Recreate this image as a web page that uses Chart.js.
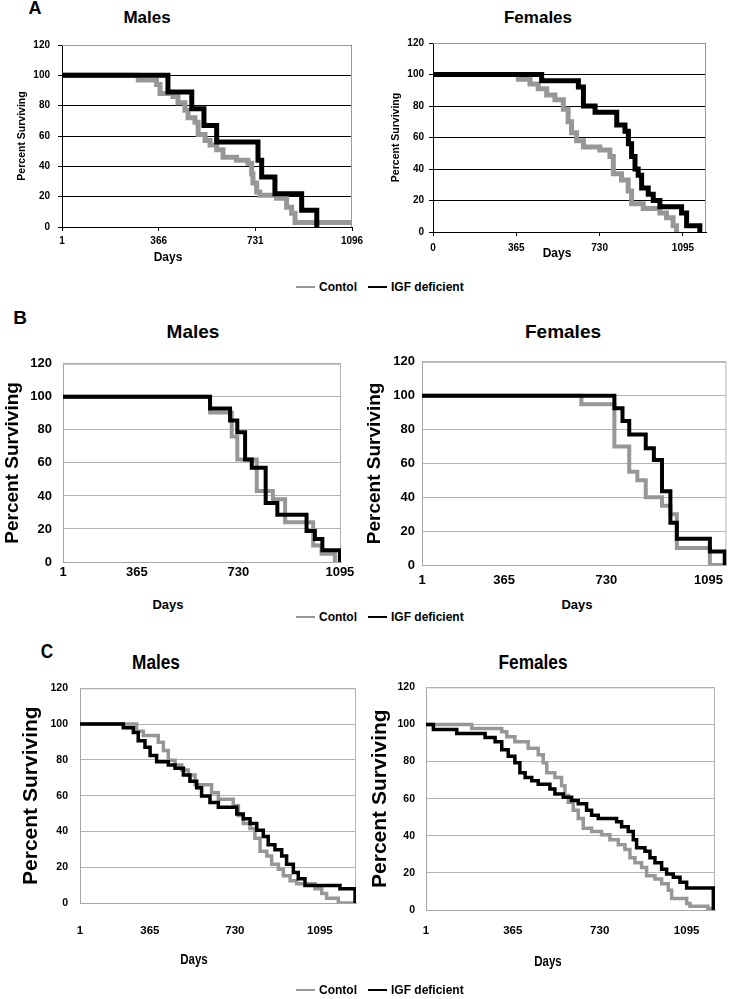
<!DOCTYPE html>
<html>
<head>
<meta charset="utf-8">
<script src="https://cdn.jsdelivr.net/npm/chart.js@4/dist/chart.umd.min.js"></script>
<style>
html,body{margin:0;padding:0;background:#fff;}
#page{position:relative;width:731px;height:999px;overflow:hidden;}
canvas{position:absolute;}
.t{position:absolute;white-space:nowrap;font-weight:bold;color:#000;line-height:1;}
.lg{position:absolute;display:flex;align-items:center;font-weight:bold;white-space:nowrap;transform:translateY(-50%);}
.lg i{display:inline-block;width:19px;height:2px;margin-right:4px;}
</style>
</head>
<body>
<div id="page"></div>
<script>
// series names and axis ticks
const seriesNames = ['Contol', 'IGF deficient'];
const yTicks = [0, 20, 40, 60, 80, 100, 120];

// A - males
const aMaleXTicks = [1, 366, 731, 1096];
const aMaleXLabels = ['1', '366', '731', '1096'];
const aMaleCtlDay = [1, 289, 358, 371, 420, 439, 465, 477, 503, 515, 541, 560, 585, 609, 660, 703, 717, 722, 736, 748, 811, 849, 868, 881, 1096];
const aMaleCtlPct = [100, 97, 94, 88, 86, 82, 77, 72, 69, 61, 57, 54, 51, 46, 44, 42, 35, 29, 23, 21, 19, 13, 9, 3, 3];
const aMaleIgfDay = [1, 401, 491, 537, 585, 741, 755, 805, 906, 963];
const aMaleIgfPct = [100, 89, 78, 67, 56, 44, 33, 22, 11, 0];

// A - females
const aFemXTicks = [0, 365, 730, 1095];
const aFemXLabels = ['0', '365', '730', '1095'];
const aFemCtlDay = [0, 374, 425, 461, 498, 534, 571, 592, 607, 629, 659, 731, 775, 790, 826, 855, 870, 921, 994, 1023, 1052, 1067];
const aFemCtlPct = [100, 97, 94, 91, 87, 84, 78, 70, 63, 58, 54, 52, 48, 37, 33, 26, 18, 15, 12, 9, 4, 0];
const aFemIgfDay = [0, 476, 637, 659, 710, 805, 841, 856, 870, 885, 899, 914, 943, 965, 994, 1089, 1111, 1169];
const aFemIgfPct = [100, 96, 92, 80, 76, 68, 64, 56, 48, 40, 36, 28, 24, 20, 16, 12, 4, 0];

// B - males
const bMaleXTicks = [99, 365, 730, 1095];
const bMaleXLabels = ['1', '365', '730', '1095'];
const bMaleCtlDay = [99, 628, 706, 726, 796, 854, 898, 999, 1029, 1077];
const bMaleCtlPct = [100, 90.5, 76, 62, 43, 38, 24, 10, 5, 0];
const bMaleIgfDay = [99, 628, 700, 726, 754, 778, 828, 870, 975, 1005, 1032, 1095];
const bMaleIgfPct = [100, 92.9, 85.7, 78.6, 62, 57.1, 35.7, 28.6, 18.7, 14, 7.1, 0];

// B - females
const bFemXTicks = [72, 365, 730, 1095];
const bFemXLabels = ['1', '365', '730', '1095'];
const bFemCtlDay = [72, 641, 759, 812, 841, 871, 929, 959, 982, 1100, 1159];
const bFemCtlPct = [100, 95, 70, 55, 50, 40, 35, 30, 10, 0, 0];
const bFemIgfDay = [72, 759, 788, 812, 871, 900, 929, 959, 982, 1100, 1153];
const bFemIgfPct = [100, 92.5, 85, 77, 69, 62, 43.5, 25, 15.5, 8, 0];

// C - males
const cMaleXTicks = [65, 365, 730, 1095];
const cMaleXLabels = ['1', '365', '730', '1095'];
const cMaleCtlDay = [65, 308, 337, 401, 423, 444, 473, 502, 530, 559, 630, 659, 723, 745, 766, 795, 816, 838, 867, 888, 917, 938, 967, 995, 1074, 1103, 1124, 1174, 1250];
const cMaleCtlPct = [100, 96, 93.6, 89.8, 85.3, 79.8, 77.1, 74.4, 71.6, 66.1, 61.6, 58, 54.4, 48.9, 44.4, 41.6, 36.2, 28.9, 26.2, 21.7, 18.9, 15.3, 12.5, 10.7, 8, 5.3, 2.6, 0, 0];
const cMaleIgfDay = [65, 251, 294, 315, 344, 366, 394, 444, 473, 509, 537, 566, 587, 623, 659, 738, 766, 795, 824, 852, 873, 902, 931, 952, 981, 1002, 1031, 1181, 1246];
const cMaleIgfPct = [100, 98, 95.3, 90.7, 87.1, 82.5, 78.9, 77.1, 75.3, 71.6, 68, 64.4, 59.8, 56.2, 53.5, 49.8, 47.1, 44.4, 40.7, 37.1, 32.6, 29.8, 26.2, 21.7, 17.1, 13.5, 9.8, 8, 0];

// C - females
const cFemXTicks = [1, 365, 730, 1095];
const cFemXLabels = ['1', '365', '730', '1095'];
const cFemCtlDay = [1, 193, 319, 340, 374, 430, 472, 493, 508, 542, 570, 584, 598, 619, 640, 661, 696, 738, 773, 808, 836, 857, 878, 906, 927, 962, 990, 1018, 1032, 1095, 1109, 1184, 1214];
const cFemCtlPct = [100, 97.8, 96, 93.4, 90.7, 87.2, 83.7, 79.3, 74, 71.4, 66.9, 61.7, 58.1, 53.7, 49.3, 44, 42.3, 40.5, 37.8, 35.2, 32.6, 28.2, 25.5, 22.9, 18.5, 16.7, 14.1, 10.6, 6.2, 3.5, 2, 0.8, 0];
const cFemIgfDay = [1, 32, 130, 249, 291, 319, 346, 374, 395, 417, 445, 472, 521, 542, 577, 612, 640, 675, 696, 724, 801, 822, 850, 871, 885, 920, 941, 962, 990, 1011, 1039, 1067, 1095, 1207];
const cFemIgfPct = [100, 97.2, 95.1, 93, 90.7, 86.3, 82.8, 79.3, 74, 71.4, 69.6, 67.8, 65.2, 62.5, 60.7, 59, 57.2, 53.7, 51.1, 49.3, 47.6, 44.9, 42.3, 37.8, 33.5, 31.7, 28.2, 25.5, 22, 19.4, 17.6, 15, 11.9, 0];

const SANS = '"Liberation Sans", Arial, sans-serif';
const GRAY = '#979797';
const page = document.getElementById('page');

function pts(days, pct) {
  return days.map((d, i) => ({ x: d, y: pct[i] }));
}

// sx < 1 squeezes the text horizontally (the C panel uses a narrow face)
function text(str, x, y, size, sx) {
  const d = document.createElement('div');
  d.className = 't';
  d.textContent = str;
  d.style.left = x + 'px';
  d.style.top = y + 'px';
  d.style.fontSize = size + 'px';
  d.style.fontFamily = SANS;
  d.style.transform = 'translate(-50%,-50%) scaleX(' + (sx || 1) + ')';
  page.appendChild(d);
}

function legend(y) {
  const d = document.createElement('div');
  d.className = 'lg';
  d.style.left = '296px';
  d.style.top = y + 'px';
  d.style.fontFamily = SANS;
  d.style.fontSize = '12px';
  d.innerHTML = '<i style="background:' + GRAY + '"></i><span>' + seriesNames[0] +
    '</span><i style="background:#000;margin-left:11px"></i><span>' + seriesNames[1] + '</span>';
  page.appendChild(d);
}

// top and right edges of the plot frame
const frame = {
  id: 'frame',
  beforeDatasetsDraw(chart, args, o) {
    const a = chart.chartArea, c = chart.ctx;
    c.save();
    c.strokeStyle = o.color;
    c.lineWidth = 1;
    c.beginPath();
    c.moveTo(a.left, a.top + 0.5);
    c.lineTo(a.right - 0.5, a.top + 0.5);
    c.lineTo(a.right - 0.5, a.bottom);
    c.stroke();
    c.restore();
  }
};

function panel(p) {
  const [cl, ct, cw, ch] = p.box;
  const [L, R, T, B] = p.plot;
  const cv = document.createElement('canvas');
  cv.width = cw; cv.height = ch;
  cv.style.left = cl + 'px'; cv.style.top = ct + 'px';
  cv.style.width = cw + 'px'; cv.style.height = ch + 'px';
  page.appendChild(cv);

  new Chart(cv, {
    type: 'line',
    data: {
      datasets: [
        { label: seriesNames[0], data: pts(p.ctl[0], p.ctl[1]), borderColor: GRAY, borderWidth: p.lw,
          stepped: true, pointRadius: 0, fill: false, order: 1 },
        { label: seriesNames[1], data: pts(p.igf[0], p.igf[1]), borderColor: '#000', borderWidth: p.lw,
          stepped: true, pointRadius: 0, fill: false, order: 0 }
      ]
    },
    options: {
      responsive: false,
      animation: false,
      events: [],
      layout: { padding: { left: 0, top: T - ct, right: cl + cw - R, bottom: 0 } },
      plugins: { legend: { display: false }, tooltip: { enabled: false }, frame: { color: p.frameColor } },
      scales: {
        x: {
          type: 'linear', min: p.xmin, max: p.xmax,
          afterBuildTicks: s => { s.ticks = p.xt.map(v => ({ value: v })); },
          afterFit: s => { s.height = ct + ch - B; },
          ticks: { autoSkip: false, maxRotation: 0, padding: p.xpad, color: '#000',
            font: { family: SANS, size: p.xfont, weight: 'bold' },
            callback: v => p.xl[p.xt.indexOf(v)] },
          grid: { display: p.tickMarks, drawOnChartArea: false, drawTicks: p.tickMarks,
            tickLength: p.tickMarks ? 4 : 0, color: '#000' },
          border: { display: true, color: p.axisColor, width: 1 }
        },
        y: {
          min: 0, max: 120,
          afterBuildTicks: s => { s.ticks = yTicks.map(v => ({ value: v })); },
          afterFit: s => { s.width = L - cl; },
          ticks: { padding: p.ypad, color: '#000',
            font: { family: SANS, size: p.yfont, weight: 'bold' } },
          grid: { color: p.gridColor, lineWidth: 1, drawTicks: p.tickMarks, tickLength: p.tickMarks ? 4 : 0 },
          border: { display: true, color: p.axisColor, width: 1 },
          title: { display: true, text: 'Percent Surviving', color: '#000',
            font: { family: SANS, size: p.ytitle[0], weight: 'bold', lineHeight: 1 },
            padding: { top: p.ytitle[1], bottom: 0 } }
        }
      }
    },
    plugins: [frame]
  });
}

// ---- panel A ----
text('A', 35, 8, 18);
text('Males', 147, 17, 17);
text('Females', 538, 17, 17);
panel({ box: [0, 30, 372, 232], plot: [62, 352, 45, 227], xmin: 1, xmax: 1096,
  xt: aMaleXTicks, xl: aMaleXLabels, ctl: [aMaleCtlDay, aMaleCtlPct], igf: [aMaleIgfDay, aMaleIgfPct],
  lw: 5, xpad: 4, ypad: 8, xfont: 10, yfont: 10, ytitle: [10.5, 17],
  gridColor: '#000', axisColor: '#000', frameColor: '#999', tickMarks: true });
panel({ box: [375, 28, 356, 236], plot: [433, 706, 43, 232], xmin: 0, xmax: 1196,
  xt: aFemXTicks, xl: aFemXLabels, ctl: [aFemCtlDay, aFemCtlPct], igf: [aFemIgfDay, aFemIgfPct],
  lw: 5, xpad: 6, ypad: 5, xfont: 10, yfont: 10, ytitle: [10.5, 16],
  gridColor: '#000', axisColor: '#000', frameColor: '#999', tickMarks: true });
text('Days', 168, 257, 12);
text('Days', 557, 253, 12);
legend(287);

// ---- panel B ----
text('B', 20, 317, 19);
text('Males', 193, 331, 19);
text('Females', 563, 331, 19);
panel({ box: [0, 345, 362, 240], plot: [63, 341, 357, 562], xmin: 99, xmax: 1099,
  xt: bMaleXTicks, xl: bMaleXLabels, ctl: [bMaleCtlDay, bMaleCtlPct], igf: [bMaleIgfDay, bMaleIgfPct],
  lw: 4, xpad: 3, ypad: 11, xfont: 13, yfont: 13, ytitle: [19, 3.5],
  gridColor: '#b3b3b3', axisColor: '#a6a6a6', frameColor: '#b3b3b3', tickMarks: false });
panel({ box: [365, 347, 366, 240], plot: [422, 730, 359, 565], xmin: 72, xmax: 1159,
  xt: bFemXTicks, xl: bFemXLabels, ctl: [bFemCtlDay, bFemCtlPct], igf: [bFemIgfDay, bFemIgfPct],
  lw: 4, xpad: 8, ypad: 7, xfont: 13, yfont: 13, ytitle: [19, 0.5],
  gridColor: '#b3b3b3', axisColor: '#a6a6a6', frameColor: '#b3b3b3', tickMarks: false });
text('Days', 168, 604, 13);
text('Days', 577, 604, 13);
legend(617);

// ---- panel C ----
text('C', 47, 650, 21, 0.82);
text('Males', 156, 661, 21, 0.82);
text('Females', 533, 661, 21, 0.82);
panel({ box: [0, 670, 366, 300], plot: [80, 356, 683, 903], xmin: 65, xmax: 1250,
  xt: cMaleXTicks, xl: cMaleXLabels, ctl: [cMaleCtlDay, cMaleCtlPct], igf: [cMaleIgfDay, cMaleIgfPct],
  lw: 3.5, xpad: 21, ypad: 12, xfont: 11.5, yfont: 10.5, ytitle: [21, 21],
  gridColor: '#b3b3b3', axisColor: '#a6a6a6', frameColor: '#b3b3b3', tickMarks: false });
panel({ box: [366, 670, 365, 300], plot: [426, 715, 683, 910], xmin: 1, xmax: 1214,
  xt: cFemXTicks, xl: cFemXLabels, ctl: [cFemCtlDay, cFemCtlPct], igf: [cFemIgfDay, cFemIgfPct],
  lw: 3.5, xpad: 14, ypad: 11, xfont: 11.5, yfont: 10.5, ytitle: [21, 4],
  gridColor: '#b3b3b3', axisColor: '#a6a6a6', frameColor: '#b3b3b3', tickMarks: false });
text('Days', 194, 959, 14, 0.82);
text('Days', 548, 961, 14, 0.82);
legend(990);
</script>
</body>
</html>
